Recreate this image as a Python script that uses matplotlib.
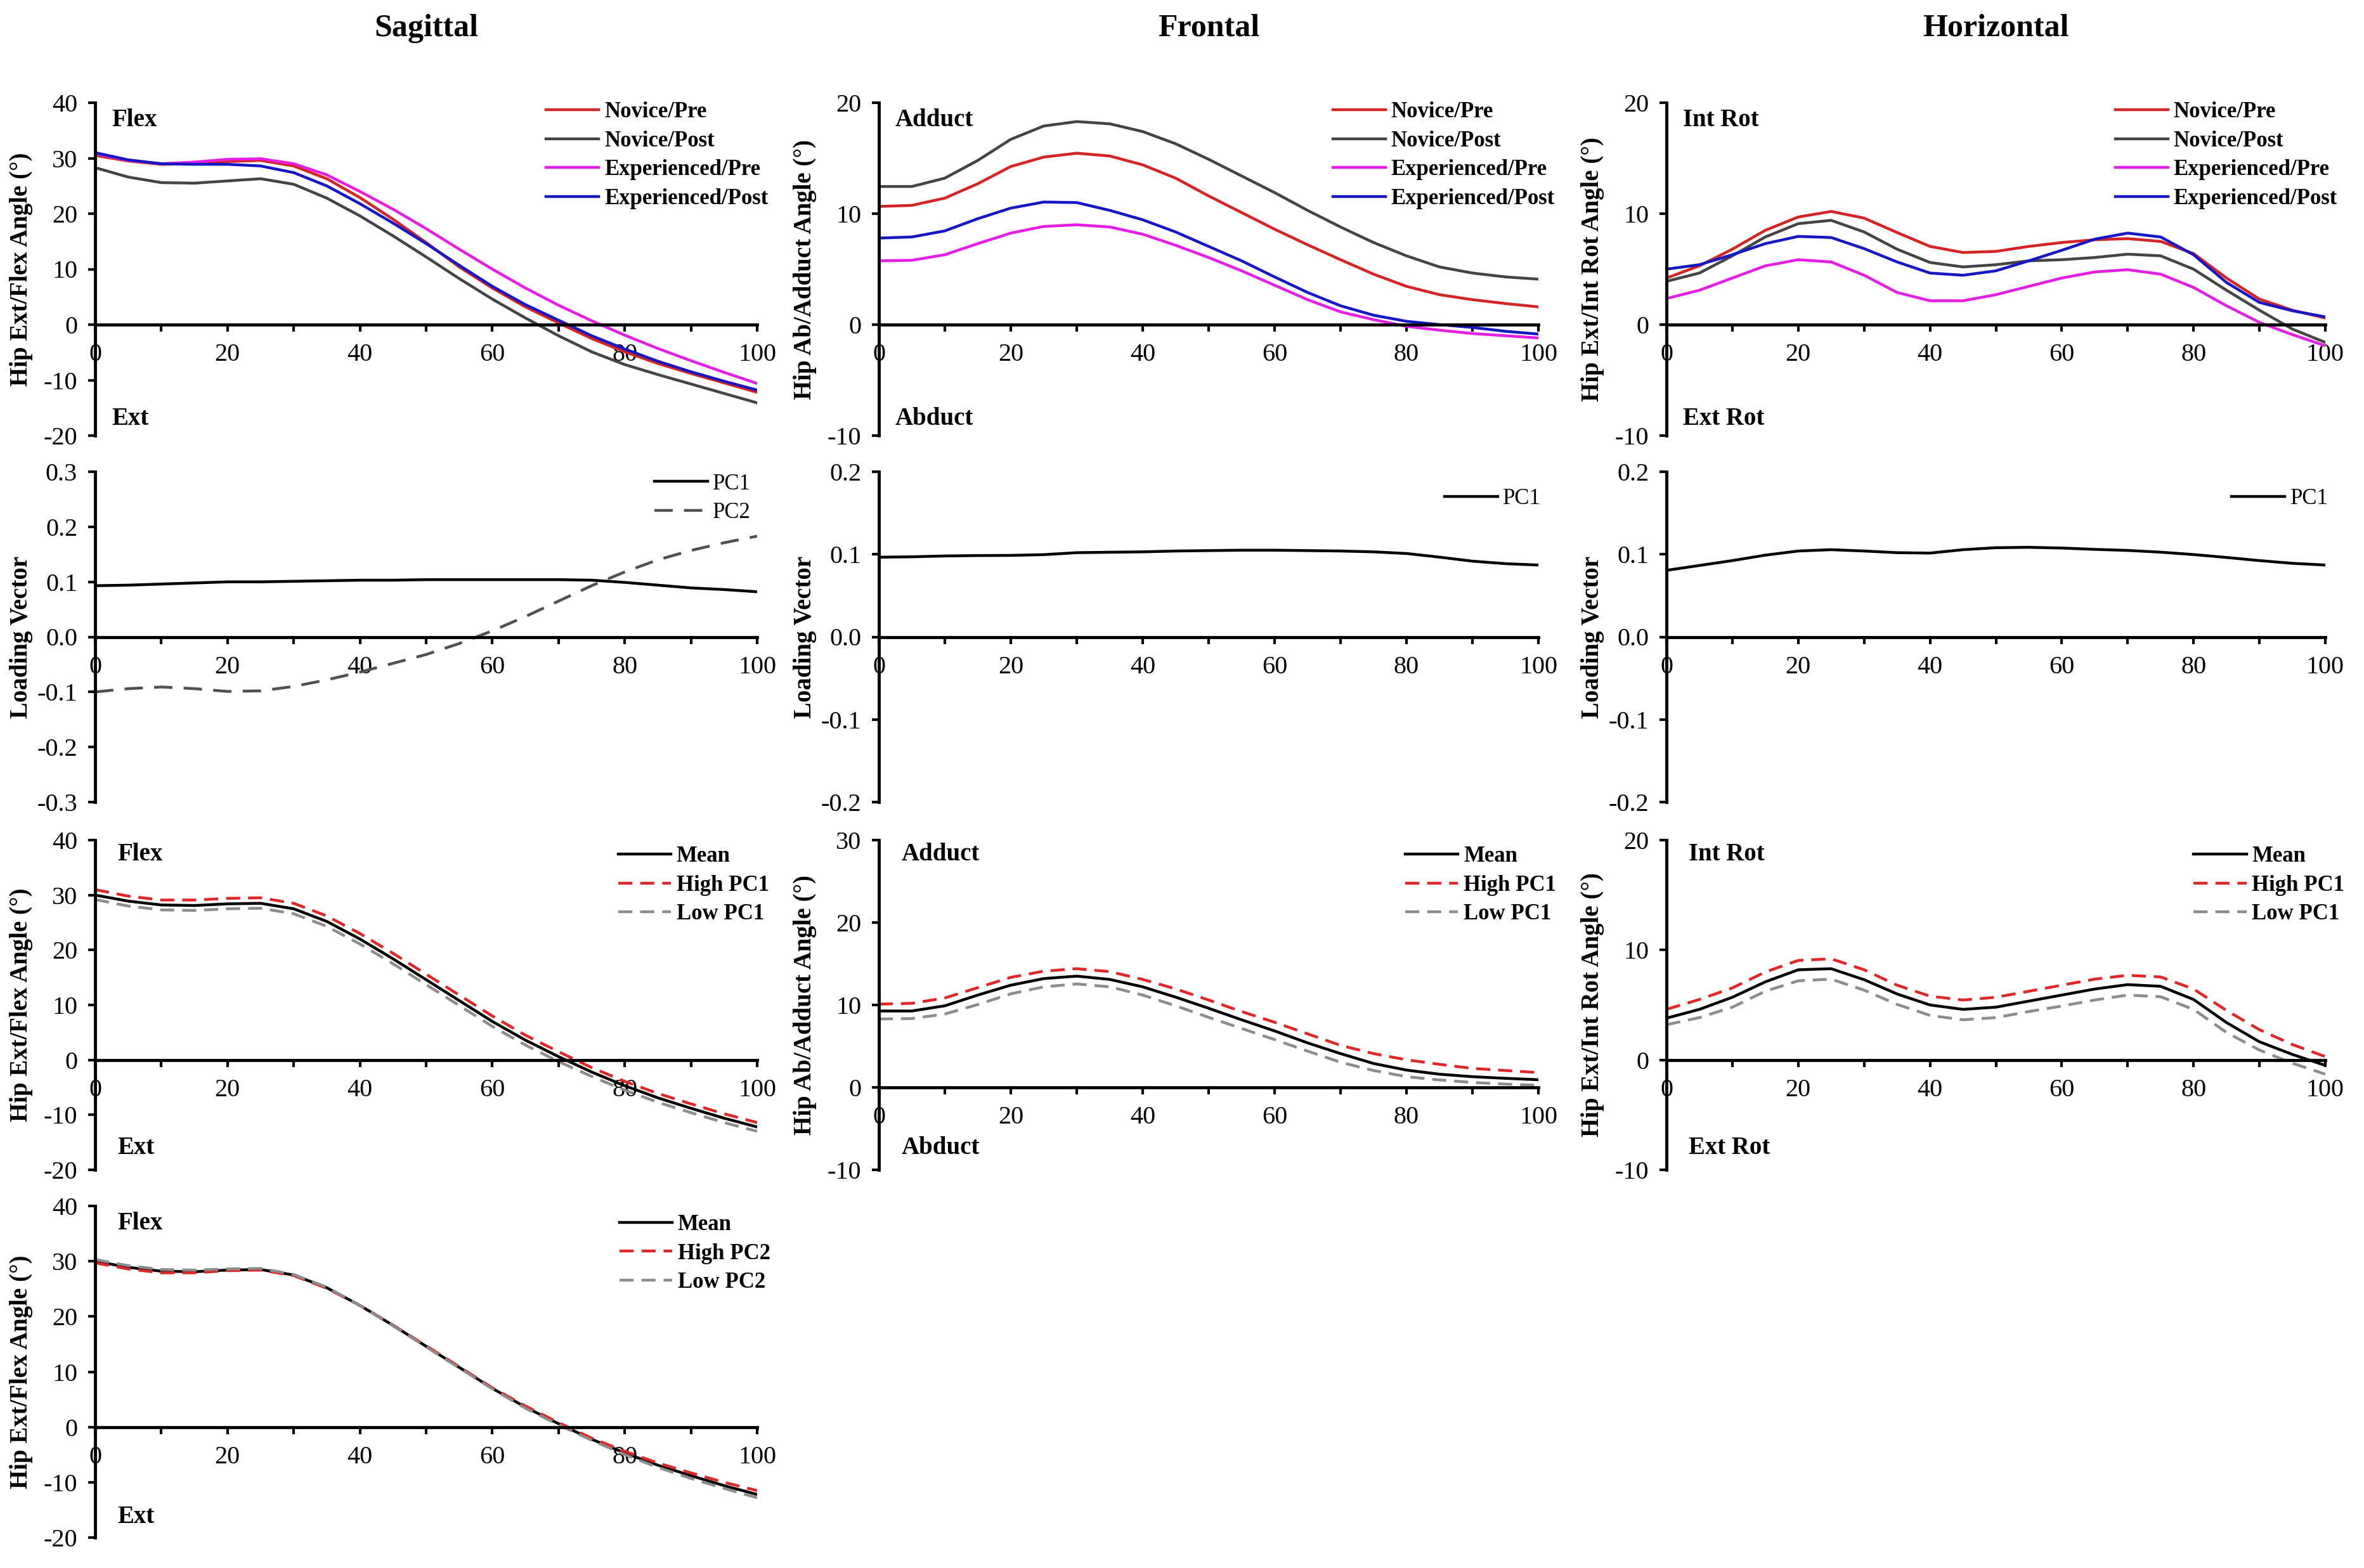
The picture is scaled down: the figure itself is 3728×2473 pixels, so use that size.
import numpy as np
import matplotlib
matplotlib.use("Agg")
import matplotlib.pyplot as plt
from matplotlib.ticker import MultipleLocator, FormatStrFormatter

plt.rcParams["font.family"] = ["Liberation Serif", "DejaVu Serif"]
plt.rcParams["axes.unicode_minus"] = False

# ── Data (% of cycle every 5 %) ──────────────────────────────────────────────

GAIT = list(range(0, 101, 5))
GROUPS = ["Novice/Pre", "Novice/Post", "Experienced/Pre", "Experienced/Post"]
GROUP_COLORS = ["#d42424", "#444444", "#e41ee4", "#1616c4"]

# Sagittal angles
SAG_NOV_PRE = [30.5, 29.5, 28.9, 29.0, 29.4, 29.6, 28.6, 26.3, 22.9, 19.0, 14.8,
               10.4, 6.6, 3.2, 0.3, -2.5, -4.9, -7.0, -8.8, -10.5, -12.2]
SAG_NOV_POST = [28.3, 26.6, 25.6, 25.5, 25.9, 26.3, 25.3, 22.8, 19.6, 16.0, 12.2,
                8.3, 4.6, 1.2, -2.0, -4.9, -7.2, -9.0, -10.7, -12.4, -14.1]
SAG_EXP_PRE = [30.8, 29.6, 29.0, 29.3, 29.8, 29.9, 29.0, 27.0, 24.0, 20.8, 17.3,
               13.6, 10.0, 6.6, 3.5, 0.7, -1.9, -4.3, -6.5, -8.6, -10.6]
SAG_EXP_POST = [31.0, 29.7, 29.0, 28.9, 28.9, 28.6, 27.4, 25.0, 21.8, 18.3, 14.6,
                10.7, 6.9, 3.6, 0.8, -2.0, -4.4, -6.6, -8.5, -10.2, -11.8]

# Frontal angles
FRO_NOV_PRE = [10.65, 10.75, 11.4, 12.7, 14.25, 15.1, 15.45, 15.2, 14.4, 13.2, 11.6,
               10.1, 8.6, 7.2, 5.85, 4.55, 3.45, 2.7, 2.25, 1.9, 1.6]
FRO_NOV_POST = [12.45, 12.45, 13.2, 14.8, 16.7, 17.9, 18.3, 18.1, 17.4, 16.3, 14.9,
                13.4, 11.9, 10.3, 8.8, 7.4, 6.2, 5.2, 4.65, 4.3, 4.1]
FRO_EXP_PRE = [5.75, 5.8, 6.3, 7.3, 8.25, 8.85, 9.0, 8.8, 8.15, 7.15, 6.05,
               4.85, 3.55, 2.25, 1.15, 0.45, -0.15, -0.5, -0.8, -1.0, -1.2]
FRO_EXP_POST = [7.8, 7.9, 8.45, 9.55, 10.5, 11.05, 11.0, 10.3, 9.45, 8.35, 7.05,
                5.75, 4.3, 2.9, 1.7, 0.85, 0.3, 0.0, -0.25, -0.6, -0.85]

# Horizontal angles
HOR_NOV_PRE = [4.2, 5.3, 6.8, 8.5, 9.7, 10.2, 9.6, 8.3, 7.05, 6.5, 6.6,
               7.05, 7.4, 7.65, 7.75, 7.5, 6.4, 4.2, 2.3, 1.3, 0.6]
HOR_NOV_POST = [3.9, 4.65, 6.2, 7.9, 9.1, 9.4, 8.35, 6.8, 5.6, 5.2, 5.4,
                5.75, 5.85, 6.05, 6.35, 6.2, 5.0, 3.1, 1.3, -0.4, -1.6]
HOR_EXP_PRE = [2.35, 3.1, 4.2, 5.3, 5.85, 5.65, 4.45, 2.9, 2.15, 2.15, 2.7,
               3.45, 4.2, 4.75, 4.95, 4.55, 3.35, 1.7, 0.2, -0.9, -1.9]
HOR_EXP_POST = [5.0, 5.4, 6.3, 7.3, 7.95, 7.85, 6.85, 5.65, 4.65, 4.45, 4.85,
                5.75, 6.7, 7.7, 8.25, 7.9, 6.3, 3.8, 2.0, 1.25, 0.7]

# Loading vectors
SAG_PC1_LOAD = [0.093, 0.094, 0.096, 0.098, 0.100, 0.100, 0.101, 0.102, 0.103, 0.103, 0.104,
                0.104, 0.104, 0.104, 0.104, 0.103, 0.099, 0.094, 0.089, 0.086, 0.082]
SAG_PC2_LOAD = [-0.100, -0.094, -0.091, -0.094, -0.099, -0.098, -0.090, -0.078, -0.064, -0.048, -0.032,
                -0.012, 0.011, 0.037, 0.065, 0.093, 0.118, 0.140, 0.157, 0.171, 0.183]
FRO_PC1_LOAD = [0.0965, 0.097, 0.098, 0.0985, 0.0987, 0.0996, 0.102, 0.1025, 0.103, 0.104, 0.1045,
                0.105, 0.105, 0.1045, 0.104, 0.103, 0.101, 0.0966, 0.0917, 0.0887, 0.087]
HOR_PC1_LOAD = [0.0806, 0.0865, 0.0924, 0.099, 0.104, 0.1056, 0.104, 0.102, 0.1015, 0.1056, 0.108,
                0.1085, 0.1076, 0.106, 0.1047, 0.1026, 0.0997, 0.0962, 0.0924, 0.0891, 0.087]

# Mean and PC reconstructions
SAG_MEAN = [30.0, 28.9, 28.2, 28.1, 28.4, 28.5, 27.5, 25.2, 22.0, 18.4, 14.6,
            10.8, 7.0, 3.6, 0.6, -2.2, -4.7, -6.9, -8.8, -10.6, -12.2]
SAG_HIGH_PC1 = [31.0, 29.8, 29.1, 29.1, 29.4, 29.5, 28.5, 26.2, 23.0, 19.4, 15.6,
                11.8, 8.0, 4.5, 1.5, -1.4, -3.9, -6.1, -8.0, -9.8, -11.4]
SAG_LOW_PC1 = [29.2, 28.0, 27.3, 27.2, 27.5, 27.6, 26.6, 24.3, 21.1, 17.5, 13.7,
               9.9, 6.1, 2.7, -0.3, -3.0, -5.5, -7.7, -9.6, -11.4, -13.0]
SAG_HIGH_PC2 = [29.7, 28.6, 27.9, 27.9, 28.3, 28.4, 27.4, 25.1, 22.0, 18.4, 14.7,
                10.9, 7.1, 3.8, 0.8, -2.0, -4.4, -6.5, -8.3, -10.0, -11.5]
SAG_LOW_PC2 = [30.3, 29.2, 28.5, 28.4, 28.6, 28.7, 27.6, 25.3, 22.0, 18.3, 14.5,
               10.7, 6.9, 3.4, 0.4, -2.4, -5.0, -7.3, -9.3, -11.1, -12.8]

FRO_MEAN = [9.27, 9.27, 9.9, 11.2, 12.4, 13.2, 13.5, 13.1, 12.2, 10.95, 9.6,
            8.2, 6.85, 5.4, 4.1, 2.9, 2.1, 1.6, 1.3, 1.1, 0.93]
FRO_HIGH_PC1 = [10.1, 10.2, 10.85, 12.1, 13.35, 14.1, 14.4, 14.05, 13.1, 11.95, 10.6,
                9.2, 7.9, 6.5, 5.1, 4.1, 3.35, 2.8, 2.3, 2.05, 1.8]
FRO_LOW_PC1 = [8.3, 8.35, 8.9, 10.05, 11.35, 12.2, 12.55, 12.2, 11.2, 9.9, 8.5,
               7.15, 5.8, 4.4, 3.05, 2.05, 1.3, 0.9, 0.6, 0.4, 0.25]

HOR_MEAN = [3.8, 4.6, 5.7, 7.1, 8.2, 8.3, 7.3, 6.0, 5.0, 4.6, 4.8,
            5.35, 5.9, 6.45, 6.85, 6.7, 5.5, 3.4, 1.65, 0.5, -0.5]
HOR_HIGH_PC1 = [4.6, 5.5, 6.55, 8.0, 9.05, 9.2, 8.2, 6.8, 5.8, 5.45, 5.7,
                6.25, 6.8, 7.35, 7.7, 7.55, 6.45, 4.5, 2.75, 1.4, 0.3]
HOR_LOW_PC1 = [3.2, 3.85, 4.8, 6.25, 7.2, 7.35, 6.35, 5.05, 4.05, 3.65, 3.85,
               4.4, 4.9, 5.45, 5.9, 5.75, 4.6, 2.5, 0.9, -0.3, -1.3]

# ── Layout (figure fractions) ────────────────────────────────────────────────

W, H = 3728, 2473
COL_LEFT = [150, 1386, 2628]
COL_WIDTH = [1044, 1040, 1039]
ROW_TOP = [162, 744, 1325, 1902]
ROW_BOTTOM = [687, 1265, 1845, 2425]

LW = 3.2
DASH = (0, (5, 2.8))


def make_axes(fig, row, col):
    l = COL_LEFT[col] / W
    b = 1 - ROW_BOTTOM[row] / H
    w = COL_WIDTH[col] / W
    h = (ROW_BOTTOM[row] - ROW_TOP[row]) / H
    return fig.add_axes([l, b, w, h])


def style_axes(ax, ylim, ystep, fmt, ylabel):
    ax.set_xlim(0, 100)
    ax.set_ylim(*ylim)
    for s in ("top", "right"):
        ax.spines[s].set_visible(False)
    ax.spines["bottom"].set_position(("data", 0))
    ax.spines["left"].set_linewidth(3.5)
    ax.spines["bottom"].set_linewidth(3.5)
    ax.xaxis.set_major_locator(MultipleLocator(20))
    ax.xaxis.set_minor_locator(MultipleLocator(10))
    ax.yaxis.set_major_locator(MultipleLocator(ystep))
    ax.yaxis.set_major_formatter(FormatStrFormatter(fmt))
    ax.tick_params(axis="both", which="both", direction="out",
                   length=8, width=3, labelsize=29)
    ax.tick_params(axis="x", which="both", pad=13)
    ax.tick_params(axis="y", which="both", pad=12)
    ax.set_ylabel(ylabel, fontsize=28, fontweight="bold")
    ax.yaxis.set_label_coords(-0.094, 0.5)


def corner_labels(ax, top, bottom, x=0.025, ytop=0.947, ybot=0.05):
    ax.text(x, ytop, top, transform=ax.transAxes, fontsize=28,
            fontweight="bold", va="center", ha="left")
    ax.text(x, ybot, bottom, transform=ax.transAxes, fontsize=28,
            fontweight="bold", va="center", ha="left")


def add_legend(ax, x, y, bold=True):
    ax.legend(loc="upper left", bbox_to_anchor=(x, y), frameon=False,
              borderpad=0, borderaxespad=0, handlelength=2.4,
              handletextpad=0.25, labelspacing=0.36,
              prop={"size": 25, "weight": "bold" if bold else "normal"})


fig = plt.figure(figsize=(W / 100, H / 100), dpi=100)

# Column titles
for col, title in enumerate(["Sagittal", "Frontal", "Horizontal"]):
    cx = (COL_LEFT[col] + COL_WIDTH[col] / 2) / W
    fig.text(cx, 0.982, title, ha="center", va="center",
             fontsize=36, fontweight="bold")

# ── Row 1: group means ──────────────────────────────────────────────────────

row1 = [
    ([SAG_NOV_PRE, SAG_NOV_POST, SAG_EXP_PRE, SAG_EXP_POST], (-20, 40), 10,
     "Hip Ext/Flex Angle (°)", ("Flex", "Ext"), 0.681),
    ([FRO_NOV_PRE, FRO_NOV_POST, FRO_EXP_PRE, FRO_EXP_POST], (-10, 20), 10,
     "Hip Ab/Adduct Angle (°)", ("Adduct", "Abduct"), 0.688),
    ([HOR_NOV_PRE, HOR_NOV_POST, HOR_EXP_PRE, HOR_EXP_POST], (-10, 20), 10,
     "Hip Ext/Int Rot Angle (°)", ("Int Rot", "Ext Rot"), 0.681),
]
for col, (series, ylim, step, ylab, corners, lx) in enumerate(row1):
    ax = make_axes(fig, 0, col)
    for vals, name, color in zip(series, GROUPS, GROUP_COLORS):
        ax.plot(GAIT, vals, color=color, lw=LW, label=name)
    style_axes(ax, ylim, step, "%d", ylab)
    corner_labels(ax, *corners)
    add_legend(ax, lx, 1.003)

# ── Row 2: loading vectors ──────────────────────────────────────────────────

ax = make_axes(fig, 1, 0)
ax.plot(GAIT, SAG_PC1_LOAD, color="black", lw=LW, label="PC1")
ax.plot(GAIT, SAG_PC2_LOAD, color="#505050", lw=LW, ls=(0, (6.5, 4)), label="PC2")
style_axes(ax, (-0.3, 0.3), 0.1, "%.1f", "Loading Vector")
add_legend(ax, 0.845, 0.995, bold=False)

for col, load in ((1, FRO_PC1_LOAD), (2, HOR_PC1_LOAD)):
    ax = make_axes(fig, 1, col)
    ax.plot(GAIT, load, color="black", lw=LW, label="PC1")
    style_axes(ax, (-0.2, 0.2), 0.1, "%.1f", "Loading Vector")
    add_legend(ax, 0.858, 0.95, bold=False)

# ── Row 3: PC1 reconstructions ──────────────────────────────────────────────

row3 = [
    (SAG_MEAN, SAG_HIGH_PC1, SAG_LOW_PC1, (-20, 40), "Hip Ext/Flex Angle (°)",
     ("Flex", "Ext"), 0.79),
    (FRO_MEAN, FRO_HIGH_PC1, FRO_LOW_PC1, (-10, 30), "Hip Ab/Adduct Angle (°)",
     ("Adduct", "Abduct"), 0.798),
    (HOR_MEAN, HOR_HIGH_PC1, HOR_LOW_PC1, (-10, 20), "Hip Ext/Int Rot Angle (°)",
     ("Int Rot", "Ext Rot"), 0.80),
]
for col, (mean, high, low, ylim, ylab, corners, lx) in enumerate(row3):
    ax = make_axes(fig, 2, col)
    ax.plot(GAIT, mean, color="black", lw=LW, label="Mean")
    ax.plot(GAIT, high, color="#e02626", lw=LW, ls=DASH, label="High PC1")
    ax.plot(GAIT, low, color="#8c8c8c", lw=LW, ls=DASH, label="Low PC1")
    style_axes(ax, ylim, 10, "%d", ylab)
    corner_labels(ax, *corners, x=0.034, ytop=0.956, ybot=0.067)
    add_legend(ax, lx, 0.982)

# ── Row 4: sagittal PC2 reconstruction ──────────────────────────────────────

ax = make_axes(fig, 3, 0)
ax.plot(GAIT, SAG_MEAN, color="black", lw=LW, label="Mean")
ax.plot(GAIT, SAG_HIGH_PC2, color="#e02626", lw=LW, ls=DASH, label="High PC2")
ax.plot(GAIT, SAG_LOW_PC2, color="#8c8c8c", lw=LW, ls=DASH, label="Low PC2")
style_axes(ax, (-20, 40), 10, "%d", "Hip Ext/Flex Angle (°)")
corner_labels(ax, "Flex", "Ext", x=0.034, ytop=0.948, ybot=0.063)
add_legend(ax, 0.792, 0.975)

fig.savefig("out.png", dpi=100)
